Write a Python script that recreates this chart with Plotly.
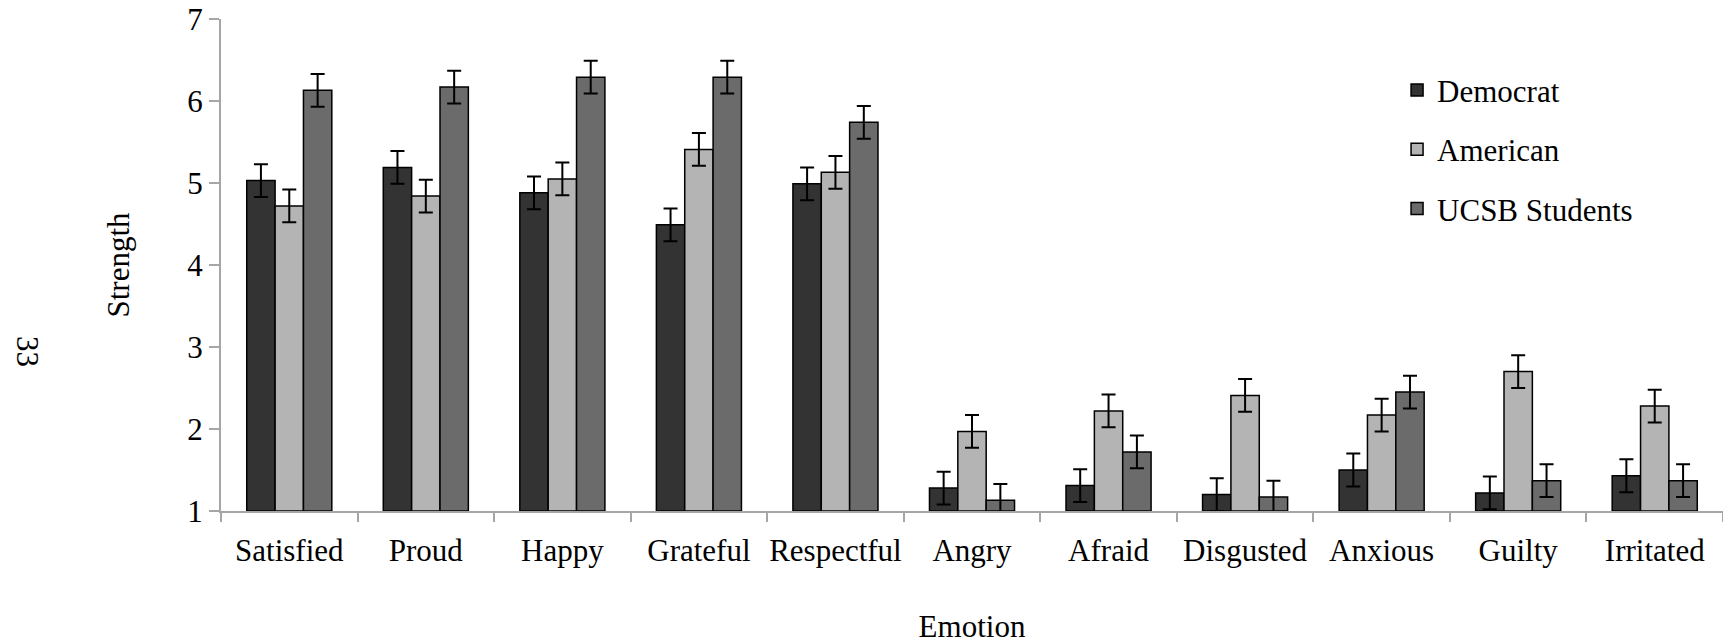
import plotly.graph_objects as go

# Emotion categories on the x axis
emotions = ["Satisfied", "Proud", "Happy", "Grateful", "Respectful",
            "Angry", "Afraid", "Disgusted", "Anxious", "Guilty", "Irritated"]

# Mean strength ratings per group
democrat = [5.03, 5.19, 4.88, 4.49, 4.99, 1.28, 1.31, 1.20, 1.50, 1.22, 1.43]
american = [4.72, 4.84, 5.05, 5.41, 5.13, 1.97, 2.22, 2.41, 2.17, 2.70, 2.28]
ucsb = [6.13, 6.17, 6.29, 6.29, 5.74, 1.13, 1.72, 1.17, 2.45, 1.37, 1.37]

# Standard errors drawn as error bars
democrat_err = [0.2] * 11
american_err = [0.2] * 11
ucsb_err = [0.2] * 11

y_ticks = [1, 2, 3, 4, 5, 6, 7]

FONT = "Times New Roman"
FS = 31

series = [
    ("Democrat", democrat, democrat_err, "#333333"),
    ("American", american, american_err, "#b4b4b4"),
    ("UCSB Students", ucsb, ucsb_err, "#6b6b6b"),
]

fig = go.Figure()
for name, vals, errs, color in series:
    fig.add_trace(go.Bar(
        name=name,
        x=emotions,
        y=[v - 1 for v in vals],
        base=1,
        legendgroup=name,
        marker=dict(color=color, line=dict(color="#000000", width=1.5)),
        error_y=dict(type="data", array=errs, visible=True,
                     color="#000000", thickness=2, width=7),
    ))

fig.update_layout(
    width=1723, height=644,
    margin=dict(l=221, r=0, t=19, b=133),
    plot_bgcolor="white", paper_bgcolor="white",
    barmode="group", bargap=0.377, bargroupgap=0,
    font=dict(family=FONT, size=FS, color="#000000"),
    showlegend=True,
    legend=dict(x=0.783, y=0.91, xanchor="left", yanchor="top",
                font=dict(family=FONT, size=FS, color="#000000"),
                traceorder="grouped", tracegroupgap=16,
                bgcolor="rgba(0,0,0,0)"),
    xaxis=dict(
        type="category", range=[-0.5, 10.5], automargin=False,
        showline=True, linecolor="#a6a6a6", linewidth=2,
        ticks="outside", tickson="boundaries", ticklen=9,
        tickcolor="#a6a6a6", tickwidth=2, tickangle=0,
        ticklabelstandoff=11,
        showgrid=False, zeroline=False,
        tickfont=dict(family=FONT, size=FS, color="#000000"),
        title=dict(text="Emotion", standoff=58,
                   font=dict(family=FONT, size=FS, color="#000000")),
    ),
    yaxis=dict(
        range=[1, 7], tickvals=y_ticks, automargin=False,
        showline=True, linecolor="#a6a6a6", linewidth=2,
        ticks="outside", ticklen=10, tickcolor="#a6a6a6", tickwidth=2,
        showgrid=False, zeroline=False,
        tickfont=dict(family=FONT, size=FS, color="#000000"),
        title=dict(text="Strength", standoff=48,
                   font=dict(family=FONT, size=FS, color="#000000")),
    ),
    annotations=[
        dict(text="33", xref="paper", yref="paper",
             x=-221 / 1502 + 27 / 1502, y=(511 - 352) / 492,
             xanchor="center", yanchor="middle", showarrow=False,
             textangle=90,
             font=dict(family=FONT, size=FS, color="#000000")),
    ],
)

fig.write_html("out.html")
